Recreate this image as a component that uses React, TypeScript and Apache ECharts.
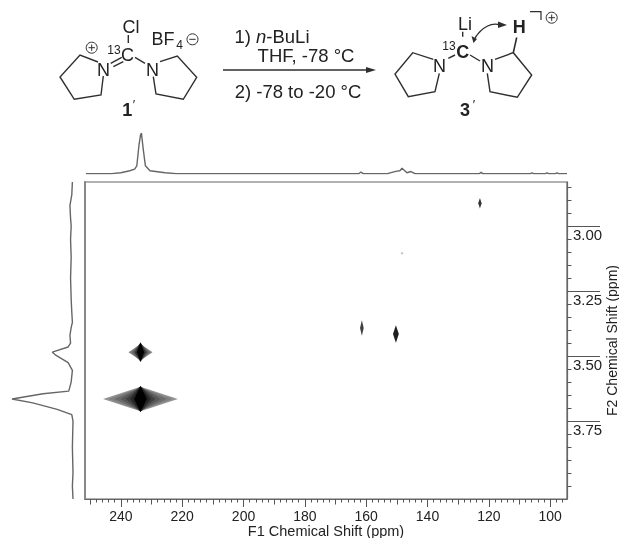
import React, { useEffect, useRef } from "react";
import * as echarts from "echarts";

const F = "'Liberation Sans', Arial, sans-serif";
const F1_MIN = 94.5, F1_MAX = 251.7, F2_MIN = 2.83, F2_MAX = 4.05;

const f1Major = [240, 220, 200, 180, 160, 140, 120, 100];
const f1Mid = [250, 230, 210, 190, 170, 150, 130, 110];
const f1Minor: number[] = [];
for (let v = 96; v <= 250; v += 2) f1Minor.push(v);
const f2Major = [3.0, 3.25, 3.5, 3.75];
const f2Minor: number[] = [];
for (let i = 0; i <= 23; i++) f2Minor.push(+(2.85 + i * 0.05).toFixed(2));

// cross-peak layers: [F1 centre, F2 centre, half width F1, half height F2, grey level]
const peakMainLayers = [
  [233.6, 3.665, 12.2, 0.047, 0.58],
  [233.6, 3.665, 10.5, 0.045, 0.5],
  [233.6, 3.665, 8.5, 0.045, 0.42],
  [233.6, 3.665, 6.5, 0.047, 0.34],
  [233.6, 3.665, 4.8, 0.048, 0.25],
  [233.6, 3.665, 3.4, 0.05, 0.15],
  [233.6, 3.665, 2.1, 0.05, 0.0],
];
const peakSecondLayers = [
  [233.6, 3.485, 3.9, 0.032, 0.5],
  [233.6, 3.485, 2.8, 0.035, 0.36],
  [233.6, 3.485, 1.9, 0.037, 0.2],
  [233.6, 3.485, 1.2, 0.038, 0.0],
];
const peakSmall = [
  [122.9, 2.912, 0.55, 0.02, 0.2],
  [148.3, 3.104, 0.45, 0.006, 0.75],
  [161.4, 3.392, 0.6, 0.03, 0.25],
  [150.3, 3.415, 0.95, 0.034, 0.12],
];

// F1 projection (ppm, relative intensity)
const topProjection = [
  [251.4, 0.01], [243, 0.01], [240, 0.03], [237.1, 0.08], [235.5, 0.12], [234.8, 0.2],
  [234.1, 0.7], [233.6, 0.95], [233.3, 1], [232.7, 0.6], [232, 0.2], [230.5, 0.08],
  [225.6, 0.03], [222, 0.01], [168, 0.01], [162.3, 0.01], [161.7, 0.05], [161, 0.01],
  [153, 0.01], [151.6, 0.04], [150, 0.07], [149, 0.08], [148.3, 0.14], [146.7, 0.03],
  [145.4, 0.06], [144.1, 0.01], [123.1, 0.01], [122.5, 0.04], [122, 0.01], [106.4, 0.01], [105.9, 0.03],
  [105.4, 0.01], [101.5, 0.01], [101, 0.03], [100.5, 0.01], [98.3, 0.01], [97.8, 0.03], [97.3, 0.01], [94.5, 0.01],
];
// F2 projection (relative intensity, ppm)
const leftProjection = [
  [0.01, 2.83], [0.02, 2.88], [0.05, 2.92], [0.04, 2.97], [0.03, 3.0], [0.04, 3.05], [0.03, 3.12],
  [0.04, 3.2], [0.03, 3.28], [0.02, 3.33], [0.01, 3.37], [0.03, 3.39], [0.05, 3.42], [0.04, 3.45],
  [0.08, 3.465], [0.34, 3.485], [0.29, 3.495], [0.08, 3.525], [0.01, 3.555], [0.03, 3.6],
  [0.07, 3.635], [0.49, 3.645], [1, 3.665], [0.66, 3.68], [0.26, 3.705], [0.02, 3.725], [0.0, 3.75],
  [0.01, 3.85], [0.0, 3.95], [0.01, 4.0], [0.0, 4.05],
];

const INK = "#2e2e2e";
const seg = (pts: number[][], w = 1.4) => ({
  type: "polyline",
  shape: { points: pts },
  style: { stroke: INK, lineWidth: w, fill: "none" },
  silent: true,
});
const txt = (text: string, x: number, y: number, size = 18, extra: any = {}) => ({
  type: "text",
  style: {
    text, x, y, fill: "#222", fontFamily: F, fontSize: size,
    textAlign: "center", textVerticalAlign: "middle", ...extra,
  },
  silent: true,
});
const charge = (cx: number, cy: number, plus: boolean) => {
  const r = 5.5, a = 3.2;
  const out: any[] = [
    { type: "circle", shape: { cx, cy, r }, style: { stroke: INK, lineWidth: 1, fill: "none" }, silent: true },
    seg([[cx - a, cy], [cx + a, cy]], 1),
  ];
  if (plus) out.push(seg([[cx, cy - a], [cx, cy + a]], 1));
  return out;
};

const schemeGraphics: any[] = [
  // compound 1'
  seg([[98, 62], [80, 55], [60, 77], [74.3, 99.3], [101, 95], [103.3, 76]]),
  seg([[160, 61.7], [177.3, 56], [196.7, 77.3], [183.3, 99.3], [156, 94], [153.3, 76.7]]),
  seg([[110.7, 63.3], [121.7, 57.3]]),
  seg([[113.3, 66.7], [123.3, 61.7]]),
  seg([[135, 57.3], [145, 63.3]]),
  seg([[128.3, 43], [128.3, 35]]),
  txt("N", 103.5, 69.5),
  txt("N", 152.5, 69.5),
  txt("C", 127.5, 55),
  txt("Cl", 131, 27),
  txt("13", 114, 50, 12),
  txt("BF", 163, 39),
  txt("4", 179.5, 45, 12),
  ...charge(192.5, 39.3, false),
  ...charge(91.7, 47.7, true),
  txt("1", 127.3, 110, 18, { fontWeight: "bold" }),
  txt("′", 134, 104, 13),
  // reaction
  txt("1) {i|n}-BuLi", 272, 36.5, 18.5, {
    rich: { i: { fontStyle: "italic", fontFamily: F, fontSize: 18.5, fill: "#222" } },
  }),
  txt("THF, -78 °C", 306, 55.5, 18.5),
  txt("2) -78 to -20 °C", 298, 91, 18.5),
  seg([[223, 70], [370, 70]], 1.3),
  { type: "polygon", shape: { points: [[366, 67], [376, 70], [366, 73]] }, style: { fill: INK }, silent: true },
  // compound 3'
  seg([[433.3, 59.3], [412.7, 52.7], [395, 74], [408.3, 96.7], [435, 91.7], [439.3, 73.3]]),
  seg([[495, 59.3], [513.3, 52.7], [531.7, 75], [517.3, 97.3], [490, 91.7], [487.3, 73.3]]),
  seg([[448.3, 58.3], [455, 55]]),
  seg([[470, 55], [480, 61]]),
  seg([[462.7, 36.7], [462.7, 31.7]]),
  seg([[513.3, 52.7], [516.7, 37.5]], 1.6),
  txt("N", 439.5, 66),
  txt("N", 487.5, 66),
  txt("C", 462.7, 51.7, 18, { fontWeight: "bold" }),
  txt("13", 449, 45.7, 12),
  txt("Li", 465, 24),
  txt("H", 519.3, 26.7, 18, { fontWeight: "bold" }),
  seg([[530, 11.7], [541, 11.7], [541, 20]], 1.2),
  ...charge(551.7, 17.7, true),
  {
    type: "bezierCurve",
    shape: { x1: 475, y1: 38, cpx1: 482, cpy1: 27, cpx2: 492, cpy2: 22, x2: 500, y2: 25 },
    style: { stroke: INK, lineWidth: 1.4, fill: "none" },
    silent: true,
  },
  { type: "polygon", shape: { points: [[498, 21.5], [507, 25], [498, 28]] }, style: { fill: INK }, silent: true },
  { type: "polygon", shape: { points: [[471.5, 36], [477, 39], [473.5, 43]] }, style: { fill: INK }, silent: true },
  txt("3", 465, 110, 18, { fontWeight: "bold" }),
  txt("′", 474, 104, 13),
];

const AXIS = "#666";
const peakData = [...peakSmall, ...peakMainLayers, ...peakSecondLayers];

export default function App() {
  const ref = useRef<HTMLDivElement>(null);
  useEffect(() => {
    document.body.style.margin = "0";
    const chart = echarts.init(ref.current!, undefined, { renderer: "svg" });
    const hidden = { show: false };
    chart.setOption({
      animation: false,
      backgroundColor: "#fff",
      textStyle: { fontFamily: F },
      grid: [
        { left: 85, top: 182, width: 482, height: 317, show: true, borderColor: AXIS, borderWidth: 1.2, backgroundColor: "#fff", outerBoundsMode: "none" },
        { left: 85, top: 133, width: 482, height: 41, outerBoundsMode: "none" },
        { left: 12, top: 182, width: 61, height: 317, outerBoundsMode: "none" },
      ],
      xAxis: [
        {
          gridIndex: 0, type: "value", inverse: true, min: F1_MIN, max: F1_MAX, position: "bottom",
          splitLine: hidden, axisLine: { show: true, lineStyle: { color: AXIS, width: 1.2 } },
          axisTick: { show: true, customValues: f1Major, length: 8, lineStyle: { color: "#555", width: 1 } },
          axisLabel: { show: true, customValues: f1Major, margin: 10, fontSize: 14, color: "#222", fontFamily: F, formatter: (v: number) => String(v) },
          name: "F1 Chemical Shift (ppm)", nameLocation: "middle", nameGap: 24, nameMoveOverlap: false,
          nameTextStyle: { fontSize: 14.5, color: "#222", fontFamily: F },
        },
        {
          gridIndex: 0, type: "value", inverse: true, min: F1_MIN, max: F1_MAX, position: "bottom", offset: 0,
          splitLine: hidden, axisLine: hidden, axisLabel: hidden,
          axisTick: { show: true, customValues: f1Minor, length: 3.5, lineStyle: { color: "#555", width: 1 } },
        },
        {
          gridIndex: 0, type: "value", inverse: true, min: F1_MIN, max: F1_MAX, position: "bottom", offset: 0,
          splitLine: hidden, axisLine: hidden, axisLabel: hidden,
          axisTick: { show: true, customValues: f1Mid, length: 5.5, lineStyle: { color: "#555", width: 1 } },
        },
        { gridIndex: 1, type: "value", inverse: true, min: F1_MIN, max: F1_MAX, show: false },
        { gridIndex: 2, type: "value", inverse: true, min: 0, max: 1, show: false },
      ],
      yAxis: [
        {
          gridIndex: 0, type: "value", inverse: true, min: F2_MIN, max: F2_MAX, position: "right",
          splitLine: hidden, axisLine: { show: true, lineStyle: { color: AXIS, width: 1.2 } },
          axisTick: { show: true, customValues: f2Major, length: 33, lineStyle: { color: "#555", width: 1 } },
          axisLabel: {
            show: true, customValues: f2Major, margin: 6, fontSize: 15, color: "#222", fontFamily: F,
            verticalAlign: "top", padding: [1, 0, 0, 0], formatter: (v: number) => v.toFixed(2),
          },
          name: "F2 Chemical Shift (ppm)", nameLocation: "middle", nameGap: 38, nameRotate: 90, nameMoveOverlap: false,
          nameTextStyle: { fontSize: 14, color: "#222", fontFamily: F },
        },
        {
          gridIndex: 0, type: "value", inverse: true, min: F2_MIN, max: F2_MAX, position: "right", offset: 0,
          splitLine: hidden, axisLine: hidden, axisLabel: hidden,
          axisTick: { show: true, customValues: f2Minor, length: 4.5, lineStyle: { color: "#555", width: 1 } },
        },
        {
          gridIndex: 0, type: "value", inverse: true, min: F2_MIN, max: F2_MAX, position: "left",
          splitLine: hidden, axisLabel: hidden, axisTick: hidden,
          axisLine: { show: true, lineStyle: { color: "#888", width: 2 } },
        },
        { gridIndex: 1, type: "value", min: 0, max: 1, show: false },
        { gridIndex: 2, type: "value", inverse: true, min: F2_MIN, max: F2_MAX, show: false },
      ],
      series: [
        {
          type: "custom", xAxisIndex: 0, yAxisIndex: 0, data: peakData, silent: true,
          renderItem: (_: any, api: any) => {
            const cx = api.value(0), cy = api.value(1), dx = api.value(2), dy = api.value(3), g = api.value(4);
            const c = Math.round(g * 255);
            return {
              type: "polygon",
              shape: { points: [api.coord([cx + dx, cy]), api.coord([cx, cy - dy]), api.coord([cx - dx, cy]), api.coord([cx, cy + dy])] },
              style: { fill: `rgb(${c},${c},${c})` },
            };
          },
        },
        {
          type: "line", xAxisIndex: 3, yAxisIndex: 3, data: topProjection, showSymbol: false, silent: true,
          lineStyle: { color: "#666", width: 1.4 },
        },
        {
          type: "line", xAxisIndex: 4, yAxisIndex: 4, data: leftProjection, showSymbol: false, silent: true,
          lineStyle: { color: "#666", width: 1.4 },
        },
      ],
      graphic: { elements: schemeGraphics },
    });
    return () => chart.dispose();
  }, []);
  return <div ref={ref} style={{ position: "absolute", left: 0, top: 0, width: 619, height: 538, overflow: "hidden", filter: "blur(0.5px)" }} />;
}
